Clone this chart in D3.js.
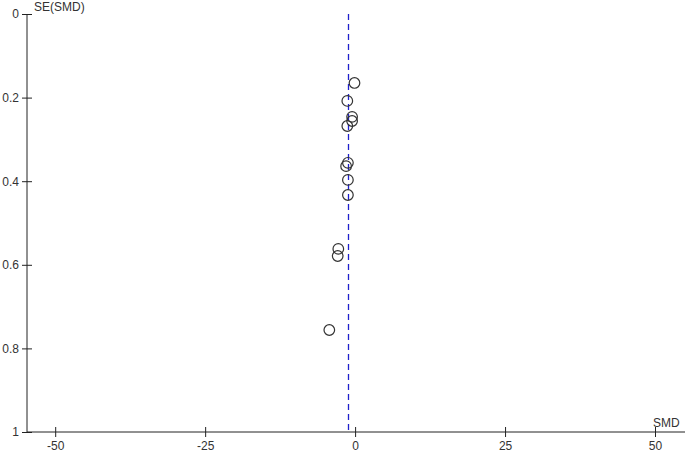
<!DOCTYPE html>
<html>
<head>
<meta charset="utf-8">
<script src="https://cdn.jsdelivr.net/npm/d3@7"></script>
<style>
  body { margin: 0; background: #fff; }
  text { font-family: "Liberation Sans", Arial, sans-serif; font-size: 12px; fill: #333; }
</style>
</head>
<body>
<svg id="chart" width="685" height="452"></svg>
<script>
// study effect sizes and their standard errors
var smd = [-0.1, -1.3, -0.5, -0.5, -1.3, -1.2, -1.5, -1.2, -1.2, -2.8, -2.9, -4.3];
var seSmd = [0.165, 0.208, 0.246, 0.256, 0.268, 0.356, 0.364, 0.397, 0.433, 0.562, 0.579, 0.756];
var pooled = -1.25;
var xTicks = [-50, -25, 0, 25, 50];
var yTicks = [0, 0.2, 0.4, 0.6, 0.8, 1];

var svg = d3.select("#chart");

var x = d3.scaleLinear().domain([-54.7, 55]).range([27, 685]);
var y = d3.scaleLinear().domain([0, 1]).range([14, 432]);

// axes
var xAxis = svg.append("g").attr("transform", "translate(0,432)")
  .call(d3.axisBottom(x).tickValues(xTicks).tickSize(5).tickFormat(function(d) { return String(d); }));
xAxis.select(".domain").attr("d", "M27,0H685").attr("stroke", "#222");
xAxis.selectAll(".tick line").attr("y1", -5).attr("y2", 5).attr("stroke", "#222");
xAxis.selectAll(".tick text").attr("y", 9).attr("dy", "0.71em")
  .style("font-family", "Liberation Sans, Arial, sans-serif").style("font-size", "12px").attr("fill", "#333");

var yAxis = svg.append("g").attr("transform", "translate(27,0)")
  .call(d3.axisLeft(y).tickValues(yTicks).tickSize(5).tickFormat(function(d) { return String(d); }));
yAxis.select(".domain").attr("d", "M0,14V432").attr("stroke", "#222");
yAxis.selectAll(".tick line").attr("x1", -5).attr("x2", 5).attr("stroke", "#222");
yAxis.selectAll(".tick text").attr("x", -8)
  .style("font-family", "Liberation Sans, Arial, sans-serif").style("font-size", "12px").attr("fill", "#333");

svg.append("text").attr("x", 34).attr("y", 11).text("SE(SMD)");
svg.append("text").attr("x", 653).attr("y", 427).text("SMD");

// pooled estimate line
svg.append("line")
  .attr("x1", Math.round(x(pooled)) + 0.5).attr("x2", Math.round(x(pooled)) + 0.5)
  .attr("y1", y(0)).attr("y2", y(1))
  .attr("stroke", "#1f1fcc").attr("stroke-width", 1.3)
  .attr("stroke-dasharray", "6,4");

// studies
svg.selectAll("circle.study")
  .data(smd)
  .enter().append("circle")
  .attr("class", "study")
  .attr("cx", function(d) { return x(d); })
  .attr("cy", function(d, i) { return y(seSmd[i]); })
  .attr("r", 5.3)
  .attr("fill", "none")
  .attr("stroke", "#333")
  .attr("stroke-width", 1.2);
</script>
</body>
</html>
